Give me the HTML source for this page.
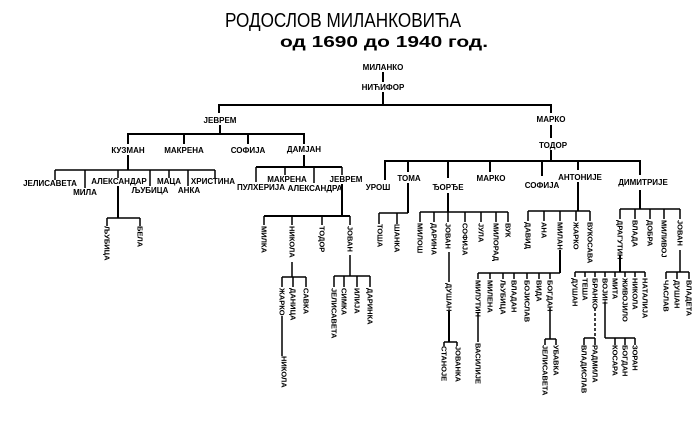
<!DOCTYPE html>
<html><head><meta charset="utf-8"><style>
html,body{margin:0;padding:0;background:#fff;width:700px;height:428px;overflow:hidden}
svg{display:block}
.t{font-family:"Liberation Sans",sans-serif;fill:#000}
.h{font-family:"Liberation Sans",sans-serif;font-weight:bold;font-size:8px;text-anchor:middle;fill:#000}
.v{font-family:"Liberation Sans",sans-serif;font-weight:bold;font-size:7.5px;dominant-baseline:central;fill:#000}
line,polyline{stroke:#000;stroke-width:2;fill:none}
.s{stroke-width:1.5}
</style></head><body>
<svg width="700" height="428" viewBox="0 0 700 428">
<text class="t" x="225" y="27" font-size="20" textLength="236" lengthAdjust="spacingAndGlyphs">РОДОСЛОВ   МИЛАНКОВИЋА</text>
<text class="t" x="280" y="47" font-size="16" font-weight="bold" textLength="208" lengthAdjust="spacingAndGlyphs">од  1690 до 1940 год.</text>

<text class="h" x="383" y="70">МИЛАНКО</text>
<line x1="383" y1="72" x2="383" y2="82"/>
<text class="h" x="383" y="90">НИЋИФОР</text>
<line x1="383" y1="92" x2="383" y2="105"/>
<line x1="219" y1="105" x2="551" y2="105"/>
<line x1="219" y1="104" x2="219" y2="113"/>
<line x1="551" y1="104" x2="551" y2="113"/>
<text class="h" x="220" y="123">ЈЕВРЕМ</text>
<text class="h" x="551" y="122">МАРКО</text>
<line x1="551" y1="125" x2="551" y2="138"/>
<text class="h" x="553" y="148">ТОДОР</text>
<line x1="551" y1="150" x2="551" y2="161"/>

<!-- Jevrem -->
<line x1="220" y1="125" x2="220" y2="134"/>
<line x1="128" y1="134" x2="304" y2="134"/>
<line x1="128" y1="133" x2="128" y2="144"/>
<line x1="184" y1="133" x2="184" y2="144"/>
<line x1="248" y1="133" x2="248" y2="144"/>
<line x1="304" y1="133" x2="304" y2="144"/>
<text class="h" x="128" y="153">КУЗМАН</text>
<text class="h" x="184" y="153">МАКРЕНА</text>
<text class="h" x="248" y="153">СОФИЈА</text>
<text class="h" x="304" y="152">ДАМЈАН</text>

<!-- Kuzman -->
<line x1="128" y1="155" x2="128" y2="170"/>
<line x1="55" y1="170" x2="215" y2="170" class="s"/>
<line x1="55" y1="170" x2="55" y2="180" class="s"/>
<line x1="85" y1="170" x2="85" y2="188" class="s"/>
<line x1="118" y1="170" x2="118" y2="178" class="s"/>
<line x1="150" y1="170" x2="150" y2="186" class="s"/>
<line x1="169" y1="170" x2="169" y2="178" class="s"/>
<line x1="188" y1="170" x2="188" y2="186" class="s"/>
<line x1="215" y1="170" x2="215" y2="178" class="s"/>
<text class="h" x="50" y="186" font-size="7">ЈЕЛИСАВЕТА</text>
<text class="h" x="85" y="195" font-size="7">МИЛА</text>
<text class="h" x="119" y="184" font-size="7">АЛЕКСАНДАР</text>
<text class="h" x="150" y="193" font-size="7">ЉУБИЦА</text>
<text class="h" x="169" y="184" font-size="7">МАЦА</text>
<text class="h" x="189" y="193" font-size="7">АНКА</text>
<text class="h" x="213" y="184" font-size="7">ХРИСТИНА</text>
<line x1="118" y1="186" x2="118" y2="218"/>
<line x1="107" y1="218" x2="140" y2="218" class="s"/>
<line x1="107" y1="218" x2="107" y2="226" class="s"/>
<line x1="140" y1="218" x2="140" y2="226" class="s"/>
<text class="v" transform="translate(107,226) rotate(90)">ЉУБИЦА</text>
<text class="v" transform="translate(140,226) rotate(90)">БЕЛА</text>

<!-- Damjan -->
<line x1="304" y1="155" x2="304" y2="167"/>
<line x1="256" y1="167" x2="342" y2="167"/>
<line x1="256" y1="167" x2="256" y2="182" class="s"/>
<line x1="285" y1="167" x2="285" y2="175" class="s"/>
<line x1="314" y1="167" x2="314" y2="183" class="s"/>
<line x1="342" y1="167" x2="342" y2="175" class="s"/>
<text class="h" x="261" y="190" font-size="7">ПУЛХЕРИЈА</text>
<text class="h" x="287" y="182" font-size="7">МАКРЕНА</text>
<text class="h" x="315" y="191" font-size="7">АЛЕКСАНДРА</text>
<text class="h" x="346" y="182" font-size="7">ЈЕВРЕМ</text>
<line x1="342" y1="184" x2="342" y2="216"/>
<line x1="264" y1="216" x2="350" y2="216"/>
<line x1="264" y1="216" x2="264" y2="225" class="s"/>
<line x1="292" y1="216" x2="292" y2="225" class="s"/>
<line x1="322" y1="216" x2="322" y2="225" class="s"/>
<line x1="350" y1="216" x2="350" y2="225" class="s"/>
<text class="v" transform="translate(264,226) rotate(90)">МИЛКА</text>
<text class="v" transform="translate(292,226) rotate(90)">НИКОЛА</text>
<text class="v" transform="translate(322,226) rotate(90)">ТОДОР</text>
<text class="v" transform="translate(350,226) rotate(90)">ЈОВАН</text>
<line x1="292" y1="262" x2="292" y2="277" class="s"/>
<line x1="282" y1="277" x2="306" y2="277" class="s"/>
<line x1="282" y1="277" x2="282" y2="287" class="s"/>
<line x1="293" y1="277" x2="293" y2="287" class="s"/>
<line x1="306" y1="277" x2="306" y2="287" class="s"/>
<text class="v" transform="translate(282,288) rotate(90)">ЖАРКО</text>
<text class="v" transform="translate(293,288) rotate(90)">ДАНИЦА</text>
<text class="v" transform="translate(306,288) rotate(90)">САВКА</text>
<line x1="282" y1="316" x2="282" y2="356" class="s"/>
<text class="v" transform="translate(284,356) rotate(90)">НИКОЛА</text>
<line x1="350" y1="255" x2="350" y2="276" class="s"/>
<line x1="334" y1="276" x2="370" y2="276" class="s"/>
<line x1="334" y1="276" x2="334" y2="287" class="s"/>
<line x1="344" y1="276" x2="344" y2="287" class="s"/>
<line x1="357" y1="276" x2="357" y2="287" class="s"/>
<line x1="370" y1="276" x2="370" y2="287" class="s"/>
<text class="v" transform="translate(334,288) rotate(90)">ЈЕЛИСАВЕТА</text>
<text class="v" transform="translate(344,288) rotate(90)">СИМКА</text>
<text class="v" transform="translate(357,288) rotate(90)">ИЛИЈА</text>
<text class="v" transform="translate(370,288) rotate(90)">ДАРИНКА</text>

<!-- Todor -->
<line x1="385" y1="161" x2="640" y2="161"/>
<line x1="385" y1="160" x2="385" y2="180"/>
<line x1="408" y1="160" x2="408" y2="172"/>
<line x1="448" y1="160" x2="448" y2="178"/>
<line x1="490" y1="160" x2="490" y2="172"/>
<line x1="542" y1="160" x2="542" y2="176"/>
<line x1="578" y1="160" x2="578" y2="170"/>
<line x1="640" y1="160" x2="640" y2="175"/>
<text class="h" x="378" y="190">УРОШ</text>
<text class="h" x="409" y="181">ТОМА</text>
<text class="h" x="448" y="190">ЂОРЂЕ</text>
<text class="h" x="491" y="181">МАРКО</text>
<text class="h" x="542" y="188">СОФИЈА</text>
<text class="h" x="580" y="180">АНТОНИЈЕ</text>
<text class="h" x="643" y="185">ДИМИТРИЈЕ</text>

<!-- Toma -->
<line x1="408" y1="183" x2="408" y2="213"/>
<line x1="379" y1="213" x2="408" y2="213" class="s"/>
<line x1="379" y1="213" x2="379" y2="224" class="s"/>
<line x1="397" y1="213" x2="397" y2="224" class="s"/>
<text class="v" transform="translate(380,224) rotate(90)">ТОША</text>
<text class="v" transform="translate(397,224) rotate(90)">ШАНКА</text>

<!-- Djordje -->
<line x1="448" y1="193" x2="448" y2="212"/>
<line x1="420" y1="212" x2="508" y2="212" class="s"/>
<line x1="420" y1="212" x2="420" y2="222" class="s"/>
<line x1="434" y1="212" x2="434" y2="222" class="s"/>
<line x1="448" y1="212" x2="448" y2="222" class="s"/>
<line x1="465" y1="212" x2="465" y2="222" class="s"/>
<line x1="481" y1="212" x2="481" y2="222" class="s"/>
<line x1="496" y1="212" x2="496" y2="222" class="s"/>
<line x1="508" y1="212" x2="508" y2="222" class="s"/>
<text class="v" transform="translate(420,223) rotate(90)">МИЛОШ</text>
<text class="v" transform="translate(434,223) rotate(90)">ДАРИНА</text>
<text class="v" transform="translate(448,223) rotate(90)">ЈОВАН</text>
<text class="v" transform="translate(465,223) rotate(90)">СОФИЈА</text>
<text class="v" transform="translate(481,223) rotate(90)">ЈУЛА</text>
<text class="v" transform="translate(496,223) rotate(90)">МИЛОРАД</text>
<text class="v" transform="translate(508,223) rotate(90)">ВУК</text>
<line x1="449" y1="252" x2="449" y2="282" class="s"/>
<text class="v" transform="translate(449,283) rotate(90)">ДУШАН</text>
<line x1="449" y1="311" x2="449" y2="342"/>
<line x1="444" y1="342" x2="457" y2="342" class="s"/>
<line x1="444" y1="342" x2="444" y2="346" class="s"/>
<line x1="457" y1="342" x2="457" y2="346" class="s"/>
<text class="v" transform="translate(444,346) rotate(90)">СТАНОЈЕ</text>
<text class="v" transform="translate(458,346) rotate(90)">ЈОВАНКА</text>

<!-- Antonije -->
<line x1="578" y1="182" x2="578" y2="211"/>
<line x1="528" y1="211" x2="590" y2="211" class="s"/>
<line x1="528" y1="211" x2="528" y2="221" class="s"/>
<line x1="544" y1="211" x2="544" y2="221" class="s"/>
<line x1="560" y1="211" x2="560" y2="221" class="s"/>
<line x1="576" y1="211" x2="576" y2="221" class="s"/>
<line x1="590" y1="211" x2="590" y2="221" class="s"/>
<text class="v" transform="translate(528,222) rotate(90)">ДАВИД</text>
<text class="v" transform="translate(544,222) rotate(90)">АНА</text>
<text class="v" transform="translate(560,222) rotate(90)">МИЛАН</text>
<text class="v" transform="translate(576,222) rotate(90)">ЖАРКО</text>
<text class="v" transform="translate(590,222) rotate(90)">ВУКОСАВА</text>
<line x1="560" y1="250" x2="560" y2="273"/>
<line x1="478" y1="273" x2="560" y2="273" class="s"/>
<line x1="478" y1="273" x2="478" y2="279" class="s"/>
<line x1="490" y1="273" x2="490" y2="279" class="s"/>
<line x1="503" y1="273" x2="503" y2="279" class="s"/>
<line x1="514" y1="273" x2="514" y2="279" class="s"/>
<line x1="527" y1="273" x2="527" y2="279" class="s"/>
<line x1="539" y1="273" x2="539" y2="279" class="s"/>
<line x1="550" y1="273" x2="550" y2="279" class="s"/>
<text class="v" transform="translate(478,280) rotate(90)">МИЛУТИН</text>
<text class="v" transform="translate(490,280) rotate(90)">МИЛЕНА</text>
<text class="v" transform="translate(503,280) rotate(90)">ЉУБИЦА</text>
<text class="v" transform="translate(514,280) rotate(90)">ВЛАДАН</text>
<text class="v" transform="translate(527,280) rotate(90)">БОЈИСЛАВ</text>
<text class="v" transform="translate(539,280) rotate(90)">ВИДА</text>
<text class="v" transform="translate(550,280) rotate(90)">БОГДАН</text>
<line x1="478" y1="312" x2="478" y2="342" class="s"/>
<text class="v" transform="translate(478,343) rotate(90)">ВАСИЛИЈЕ</text>
<line x1="550" y1="308" x2="550" y2="339" class="s"/>
<line x1="545" y1="339" x2="556" y2="339" class="s"/>
<line x1="545" y1="339" x2="545" y2="345" class="s"/>
<line x1="556" y1="339" x2="556" y2="345" class="s"/>
<text class="v" transform="translate(545,345) rotate(90)">ЈЕЛИСАВЕТА</text>
<text class="v" transform="translate(556,345) rotate(90)">УБАВКА</text>

<!-- Dimitrije -->
<line x1="640" y1="190" x2="640" y2="209"/>
<line x1="620" y1="209" x2="680" y2="209" class="s"/>
<line x1="620" y1="209" x2="620" y2="219" class="s"/>
<line x1="635" y1="209" x2="635" y2="219" class="s"/>
<line x1="650" y1="209" x2="650" y2="219" class="s"/>
<line x1="664" y1="209" x2="664" y2="219" class="s"/>
<line x1="680" y1="209" x2="680" y2="219" class="s"/>
<text class="v" transform="translate(620,220) rotate(90)">ДРАГУТИН</text>
<text class="v" transform="translate(635,220) rotate(90)">ВЛАДА</text>
<text class="v" transform="translate(650,220) rotate(90)">ДОБРА</text>
<text class="v" transform="translate(664,220) rotate(90)">МИЛИВОЈ</text>
<text class="v" transform="translate(680,220) rotate(90)">ЈОВАН</text>
<line x1="620" y1="255" x2="620" y2="272"/>
<line x1="575" y1="272" x2="645" y2="272" class="s"/>
<line x1="575" y1="272" x2="575" y2="277" class="s"/>
<line x1="585" y1="272" x2="585" y2="277" class="s"/>
<line x1="595" y1="272" x2="595" y2="277" class="s"/>
<line x1="605" y1="272" x2="605" y2="277" class="s"/>
<line x1="615" y1="272" x2="615" y2="277" class="s"/>
<line x1="625" y1="272" x2="625" y2="277" class="s"/>
<line x1="635" y1="272" x2="635" y2="277" class="s"/>
<line x1="645" y1="272" x2="645" y2="277" class="s"/>
<text class="v" transform="translate(575,278) rotate(90)">ДУШАН</text>
<text class="v" transform="translate(585,278) rotate(90)">ТЕША</text>
<text class="v" transform="translate(595,278) rotate(90)">БРАНКО</text>
<text class="v" transform="translate(605,278) rotate(90)">ВОЈИН</text>
<text class="v" transform="translate(615,278) rotate(90)">МИТА</text>
<text class="v" transform="translate(625,278) rotate(90)">ЖИВОЈИЛО</text>
<text class="v" transform="translate(635,278) rotate(90)">НИКОЛА</text>
<text class="v" transform="translate(645,278) rotate(90)">НАТАЛИЈА</text>
<line x1="595" y1="308" x2="595" y2="338" class="s" stroke-dasharray="3,2"/>
<line x1="584" y1="338" x2="595" y2="338" class="s"/>
<line x1="584" y1="338" x2="584" y2="345" class="s"/>
<line x1="595" y1="338" x2="595" y2="345" class="s"/>
<text class="v" transform="translate(584,345) rotate(90)">ВЛАДИСЛАВ</text>
<text class="v" transform="translate(595,345) rotate(90)">РАДМИЛА</text>
<line x1="605" y1="302" x2="605" y2="338" class="s"/>
<line x1="605" y1="338" x2="635" y2="338" class="s"/>
<line x1="615" y1="338" x2="615" y2="345" class="s"/>
<line x1="625" y1="338" x2="625" y2="345" class="s"/>
<line x1="635" y1="338" x2="635" y2="345" class="s"/>
<text class="v" transform="translate(615,345) rotate(90)">КОСАРА</text>
<text class="v" transform="translate(625,345) rotate(90)">БОГДАН</text>
<text class="v" transform="translate(635,345) rotate(90)">ЗОРАН</text>
<line x1="680" y1="250" x2="680" y2="272" class="s"/>
<line x1="666" y1="272" x2="689" y2="272" class="s"/>
<line x1="666" y1="272" x2="666" y2="279" class="s"/>
<line x1="677" y1="272" x2="677" y2="279" class="s"/>
<line x1="689" y1="272" x2="689" y2="279" class="s"/>
<text class="v" transform="translate(666,280) rotate(90)">ЧАСЛАВ</text>
<text class="v" transform="translate(677,280) rotate(90)">ДУШАН</text>
<text class="v" transform="translate(689,280) rotate(90)">ВЛАДЕТА</text>
</svg>
</body></html>
